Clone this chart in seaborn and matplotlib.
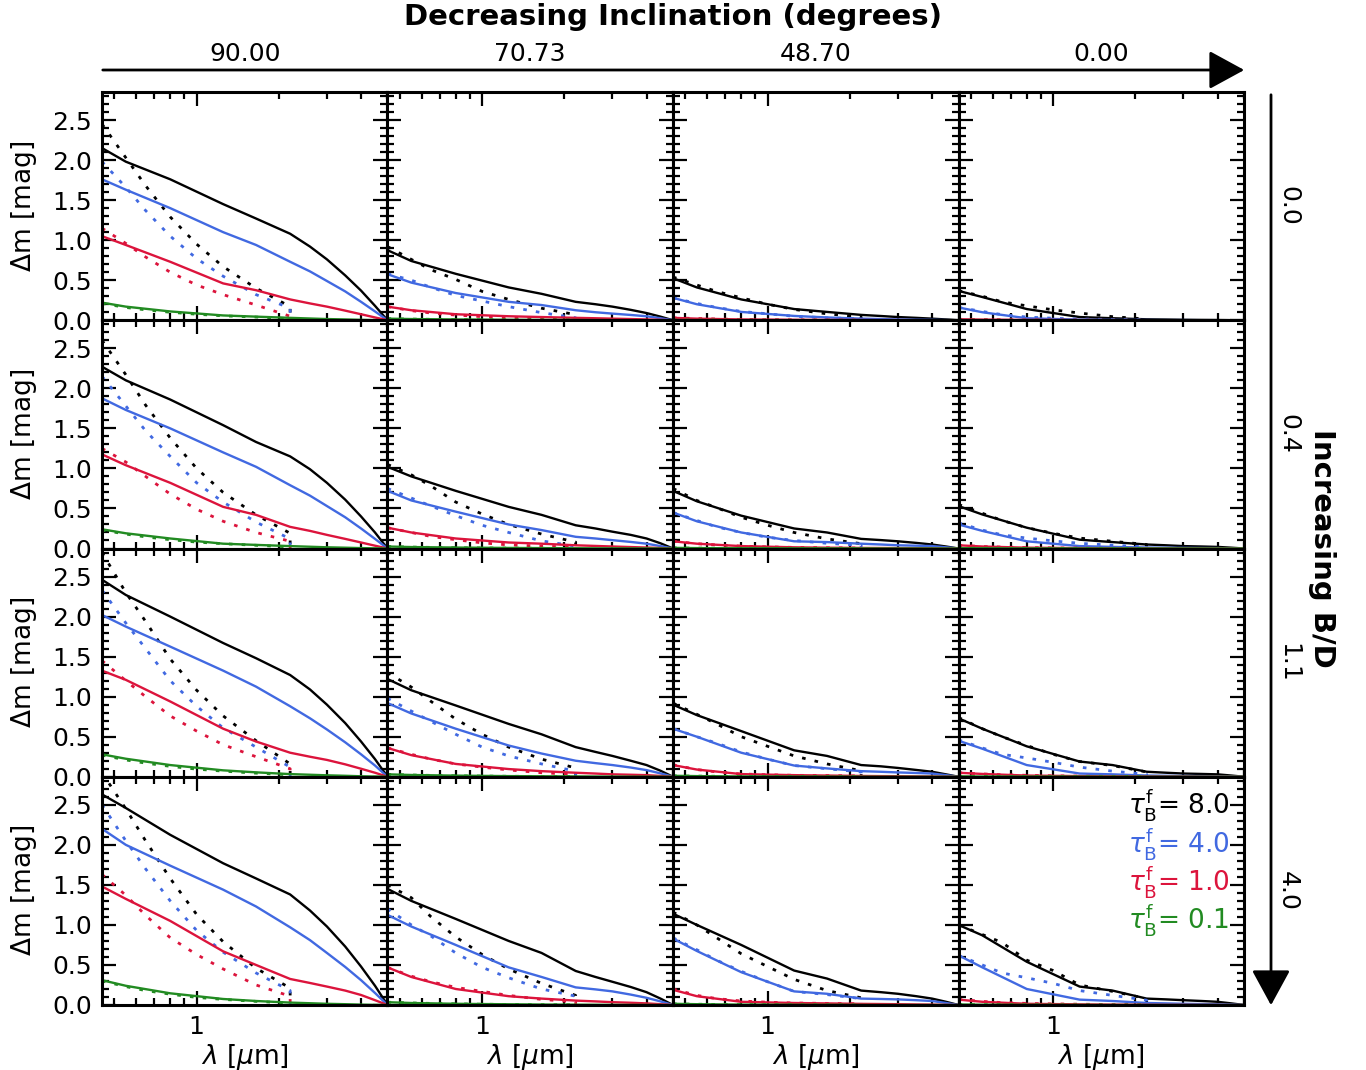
import matplotlib
matplotlib.use("Agg")
import matplotlib.pyplot as plt
import seaborn as sns
from matplotlib.patches import FancyArrowPatch
from matplotlib.ticker import (LogLocator, NullFormatter, MultipleLocator,
                               FormatStrFormatter, FuncFormatter)

# wavelength grids (micron)
wave_solid = [0.45, 0.55, 0.8, 1.25, 1.65, 2.2, 2.6, 3.0, 3.5, 4.0, 4.5, 5.0]
wave_dotted = [0.45, 0.55, 0.65, 0.8, 1.0, 1.25, 1.65, 2.2, 2.2]

inclinations = ["90.00", "70.73", "48.70", "0.00"]
bd_ratios = ["0.0", "0.4", "1.1", "4.0"]
tau_labels = ["8.0", "4.0", "1.0", "0.1"]
colors = ["black", "#4169E1", "#DC143C", "#228B22"]

# each panel: [tau=8, tau=4, tau=1, tau=0.1]
# --- row 0 (B/D = 0.0)
solid_r0c0 = [[2.15, 1.98, 1.76, 1.45, 1.27, 1.08, 0.92, 0.76, 0.56, 0.37, 0.18, 0.0],
              [1.76, 1.63, 1.40, 1.10, 0.94, 0.73, 0.61, 0.49, 0.36, 0.23, 0.11, 0.0],
              [1.05, 0.94, 0.73, 0.46, 0.375, 0.26, 0.21, 0.17, 0.12, 0.075, 0.035, 0.0],
              [0.22, 0.17, 0.11, 0.06, 0.045, 0.03, 0.022, 0.015, 0.01, 0.005, 0.002, 0.0]]
dotted_r0c0 = [[2.45, 2.03, 1.68, 1.29, 0.95, 0.67, 0.40, 0.17, 0.0],
               [1.98, 1.66, 1.37, 1.05, 0.77, 0.55, 0.32, 0.15, 0.0],
               [1.15, 0.96, 0.79, 0.60, 0.44, 0.32, 0.19, 0.05, 0.0],
               [0.21, 0.16, 0.13, 0.10, 0.075, 0.055, 0.04, 0.02, 0.0]]
solid_r0c1 = [[0.875, 0.74, 0.58, 0.41, 0.33, 0.23, 0.20, 0.17, 0.13, 0.09, 0.045, 0.0],
              [0.575, 0.47, 0.34, 0.23, 0.19, 0.125, 0.10, 0.083, 0.066, 0.05, 0.025, 0.0],
              [0.17, 0.125, 0.075, 0.05, 0.04, 0.03, 0.025, 0.02, 0.015, 0.01, 0.005, 0.0],
              [0.02, 0.015, 0.01, 0.006, 0.004, 0.003, 0.002, 0.002, 0.001, 0.001, 0.0, 0.0]]
dotted_r0c1 = [[0.92, 0.76, 0.63, 0.51, 0.36, 0.26, 0.15, 0.07, 0.0],
               [0.58, 0.50, 0.41, 0.31, 0.24, 0.17, 0.095, 0.03, 0.0],
               [0.17, 0.12, 0.09, 0.065, 0.045, 0.03, 0.02, 0.01, 0.0],
               [0.02, 0.015, 0.012, 0.009, 0.006, 0.004, 0.003, 0.002, 0.0]]
solid_r0c2 = [[0.525, 0.41, 0.26, 0.14, 0.104, 0.067, 0.053, 0.04, 0.03, 0.02, 0.01, 0.0],
              [0.28, 0.20, 0.104, 0.054, 0.035, 0.02, 0.015, 0.01, 0.007, 0.005, 0.002, 0.0],
              [0.03, 0.02, 0.01, 0.006, 0.004, 0.003, 0.002, 0.002, 0.001, 0.001, 0.0, 0.0],
              [0.003, 0.002, 0.001, 0.001, 0.0, 0.0, 0.0, 0.0, 0.0, 0.0, 0.0, 0.0]]
dotted_r0c2 = [[0.54, 0.44, 0.36, 0.28, 0.20, 0.135, 0.08, 0.04, 0.0],
               [0.28, 0.21, 0.16, 0.11, 0.08, 0.05, 0.03, 0.02, 0.0],
               [0.03, 0.022, 0.016, 0.01, 0.007, 0.005, 0.003, 0.002, 0.0],
               [0.003, 0.002, 0.002, 0.001, 0.001, 0.0, 0.0, 0.0, 0.0]]
solid_r0c3 = [[0.367, 0.29, 0.14, 0.04, 0.025, 0.012, 0.009, 0.006, 0.004, 0.003, 0.001, 0.0],
              [0.16, 0.10, 0.025, 0.008, 0.005, 0.003, 0.002, 0.002, 0.001, 0.001, 0.0, 0.0],
              [0.012, 0.008, 0.004, 0.002, 0.001, 0.001, 0.0, 0.0, 0.0, 0.0, 0.0, 0.0],
              [0.001, 0.001, 0.0, 0.0, 0.0, 0.0, 0.0, 0.0, 0.0, 0.0, 0.0, 0.0]]
dotted_r0c3 = [[0.37, 0.30, 0.23, 0.18, 0.13, 0.09, 0.045, 0.015, 0.0],
               [0.16, 0.11, 0.07, 0.04, 0.025, 0.015, 0.01, 0.005, 0.0],
               [0.012, 0.008, 0.006, 0.004, 0.003, 0.002, 0.001, 0.0, 0.0],
               [0.001, 0.001, 0.0, 0.0, 0.0, 0.0, 0.0, 0.0, 0.0]]

# --- row 1 (B/D = 0.4)
solid_r1c0 = [[2.27, 2.10, 1.86, 1.54, 1.33, 1.15, 0.99, 0.82, 0.61, 0.40, 0.20, 0.0],
              [1.875, 1.73, 1.50, 1.20, 1.02, 0.79, 0.66, 0.53, 0.39, 0.25, 0.12, 0.0],
              [1.175, 1.04, 0.82, 0.52, 0.42, 0.27, 0.22, 0.17, 0.12, 0.075, 0.035, 0.0],
              [0.24, 0.19, 0.125, 0.06, 0.045, 0.03, 0.022, 0.015, 0.01, 0.005, 0.002, 0.0]]
dotted_r1c0 = [[2.60, 2.17, 1.79, 1.38, 1.00, 0.70, 0.42, 0.19, 0.0],
               [2.15, 1.78, 1.47, 1.15, 0.82, 0.58, 0.33, 0.12, 0.0],
               [1.25, 1.08, 0.90, 0.68, 0.49, 0.34, 0.20, 0.09, 0.0],
               [0.23, 0.18, 0.145, 0.11, 0.08, 0.06, 0.04, 0.02, 0.0]]
solid_r1c1 = [[1.02, 0.90, 0.72, 0.52, 0.42, 0.29, 0.25, 0.21, 0.17, 0.125, 0.065, 0.0],
              [0.72, 0.60, 0.46, 0.30, 0.23, 0.146, 0.125, 0.104, 0.082, 0.06, 0.03, 0.0],
              [0.26, 0.20, 0.125, 0.075, 0.06, 0.04, 0.032, 0.025, 0.018, 0.012, 0.006, 0.0],
              [0.025, 0.018, 0.012, 0.007, 0.005, 0.003, 0.002, 0.002, 0.001, 0.001, 0.0, 0.0]]
dotted_r1c1 = [[1.05, 0.92, 0.78, 0.58, 0.43, 0.30, 0.18, 0.08, 0.0],
               [0.75, 0.63, 0.53, 0.41, 0.29, 0.20, 0.095, 0.03, 0.0],
               [0.26, 0.20, 0.15, 0.11, 0.07, 0.045, 0.03, 0.015, 0.0],
               [0.025, 0.018, 0.014, 0.01, 0.007, 0.005, 0.003, 0.002, 0.0]]
solid_r1c2 = [[0.72, 0.59, 0.41, 0.25, 0.20, 0.12, 0.105, 0.09, 0.07, 0.05, 0.025, 0.0],
              [0.45, 0.34, 0.20, 0.09, 0.08, 0.06, 0.05, 0.04, 0.035, 0.03, 0.015, 0.0],
              [0.09, 0.06, 0.03, 0.015, 0.01, 0.007, 0.006, 0.005, 0.004, 0.003, 0.001, 0.0],
              [0.008, 0.005, 0.003, 0.002, 0.001, 0.001, 0.0, 0.0, 0.0, 0.0, 0.0, 0.0]]
dotted_r1c2 = [[0.75, 0.60, 0.51, 0.39, 0.29, 0.20, 0.12, 0.06, 0.0],
               [0.45, 0.35, 0.27, 0.20, 0.14, 0.10, 0.065, 0.04, 0.0],
               [0.09, 0.06, 0.045, 0.03, 0.02, 0.014, 0.01, 0.006, 0.0],
               [0.008, 0.005, 0.004, 0.003, 0.002, 0.001, 0.0, 0.0, 0.0]]
solid_r1c3 = [[0.53, 0.425, 0.26, 0.11, 0.08, 0.05, 0.04, 0.03, 0.025, 0.02, 0.01, 0.0],
              [0.30, 0.22, 0.09, 0.03, 0.02, 0.012, 0.01, 0.008, 0.006, 0.005, 0.002, 0.0],
              [0.04, 0.025, 0.01, 0.005, 0.003, 0.002, 0.001, 0.001, 0.001, 0.001, 0.0, 0.0],
              [0.004, 0.003, 0.001, 0.0, 0.0, 0.0, 0.0, 0.0, 0.0, 0.0, 0.0, 0.0]]
dotted_r1c3 = [[0.55, 0.44, 0.35, 0.26, 0.19, 0.13, 0.09, 0.05, 0.0],
               [0.32, 0.23, 0.17, 0.13, 0.095, 0.065, 0.04, 0.02, 0.0],
               [0.04, 0.025, 0.018, 0.012, 0.008, 0.005, 0.003, 0.002, 0.0],
               [0.004, 0.003, 0.002, 0.001, 0.0, 0.0, 0.0, 0.0, 0.0]]

# --- row 2 (B/D = 1.1)
solid_r2c0 = [[2.46, 2.27, 2.00, 1.67, 1.48, 1.27, 1.09, 0.90, 0.67, 0.44, 0.22, 0.0],
              [2.02, 1.875, 1.625, 1.325, 1.125, 0.88, 0.73, 0.59, 0.43, 0.28, 0.14, 0.0],
              [1.325, 1.21, 0.94, 0.60, 0.44, 0.30, 0.25, 0.21, 0.155, 0.10, 0.05, 0.0],
              [0.28, 0.225, 0.146, 0.08, 0.055, 0.033, 0.025, 0.018, 0.012, 0.006, 0.003, 0.0]]
dotted_r2c0 = [[2.80, 2.30, 1.94, 1.47, 1.08, 0.76, 0.45, 0.16, 0.0],
               [2.33, 1.92, 1.60, 1.20, 0.88, 0.61, 0.37, 0.12, 0.0],
               [1.45, 1.20, 1.00, 0.76, 0.57, 0.40, 0.25, 0.10, 0.0],
               [0.27, 0.21, 0.17, 0.13, 0.095, 0.07, 0.045, 0.025, 0.0]]
solid_r2c1 = [[1.22, 1.08, 0.89, 0.66, 0.53, 0.37, 0.31, 0.26, 0.20, 0.146, 0.075, 0.0],
              [0.92, 0.79, 0.60, 0.39, 0.29, 0.20, 0.17, 0.146, 0.115, 0.083, 0.042, 0.0],
              [0.36, 0.27, 0.16, 0.096, 0.07, 0.05, 0.04, 0.03, 0.025, 0.02, 0.01, 0.0],
              [0.03, 0.022, 0.014, 0.008, 0.006, 0.004, 0.003, 0.002, 0.001, 0.001, 0.0, 0.0]]
dotted_r2c1 = [[1.30, 1.12, 0.94, 0.72, 0.53, 0.37, 0.22, 0.11, 0.0],
               [0.98, 0.82, 0.69, 0.53, 0.37, 0.26, 0.16, 0.07, 0.0],
               [0.36, 0.28, 0.22, 0.16, 0.12, 0.085, 0.05, 0.03, 0.0],
               [0.03, 0.022, 0.017, 0.012, 0.009, 0.006, 0.004, 0.002, 0.0]]
solid_r2c2 = [[0.90, 0.77, 0.57, 0.33, 0.26, 0.146, 0.13, 0.11, 0.085, 0.0625, 0.03, 0.0],
              [0.60, 0.50, 0.30, 0.14, 0.104, 0.07, 0.062, 0.054, 0.047, 0.04, 0.02, 0.0],
              [0.146, 0.09, 0.033, 0.02, 0.015, 0.01, 0.008, 0.007, 0.005, 0.004, 0.002, 0.0],
              [0.012, 0.008, 0.004, 0.002, 0.001, 0.001, 0.0, 0.0, 0.0, 0.0, 0.0, 0.0]]
dotted_r2c2 = [[0.92, 0.78, 0.66, 0.50, 0.38, 0.26, 0.16, 0.075, 0.0],
               [0.60, 0.50, 0.42, 0.31, 0.22, 0.14, 0.10, 0.06, 0.0],
               [0.15, 0.09, 0.06, 0.035, 0.025, 0.018, 0.015, 0.01, 0.0],
               [0.012, 0.008, 0.006, 0.004, 0.002, 0.001, 0.001, 0.0, 0.0]]
solid_r2c3 = [[0.73, 0.60, 0.38, 0.19, 0.146, 0.0625, 0.05, 0.04, 0.035, 0.03, 0.015, 0.0],
              [0.45, 0.35, 0.146, 0.04, 0.03, 0.015, 0.012, 0.01, 0.008, 0.006, 0.003, 0.0],
              [0.05, 0.035, 0.015, 0.008, 0.005, 0.003, 0.002, 0.002, 0.001, 0.001, 0.0, 0.0],
              [0.005, 0.003, 0.002, 0.001, 0.0, 0.0, 0.0, 0.0, 0.0, 0.0, 0.0, 0.0]]
dotted_r2c3 = [[0.74, 0.60, 0.50, 0.39, 0.28, 0.19, 0.14, 0.06, 0.0],
               [0.46, 0.36, 0.28, 0.235, 0.18, 0.12, 0.07, 0.03, 0.0],
               [0.05, 0.035, 0.025, 0.018, 0.012, 0.008, 0.005, 0.003, 0.0],
               [0.005, 0.003, 0.002, 0.002, 0.001, 0.0, 0.0, 0.0, 0.0]]

# --- row 3 (B/D = 4.0)
solid_r3c0 = [[2.63, 2.46, 2.125, 1.77, 1.58, 1.38, 1.18, 0.98, 0.73, 0.48, 0.24, 0.0],
              [2.20, 2.00, 1.74, 1.44, 1.23, 0.97, 0.81, 0.65, 0.475, 0.31, 0.15, 0.0],
              [1.48, 1.325, 1.05, 0.67, 0.50, 0.325, 0.275, 0.23, 0.18, 0.125, 0.06, 0.0],
              [0.31, 0.24, 0.146, 0.075, 0.05, 0.03, 0.022, 0.015, 0.01, 0.005, 0.002, 0.0]]
dotted_r3c0 = [[2.90, 2.45, 2.05, 1.58, 1.13, 0.79, 0.46, 0.21, 0.0],
               [2.50, 2.05, 1.70, 1.30, 0.93, 0.66, 0.40, 0.18, 0.0],
               [1.63, 1.37, 1.12, 0.84, 0.63, 0.45, 0.25, 0.11, 0.0],
               [0.30, 0.23, 0.18, 0.135, 0.095, 0.07, 0.045, 0.025, 0.0]]
solid_r3c1 = [[1.45, 1.30, 1.075, 0.80, 0.65, 0.425, 0.35, 0.29, 0.225, 0.16, 0.08, 0.0],
              [1.125, 0.98, 0.75, 0.47, 0.35, 0.22, 0.195, 0.17, 0.13, 0.09, 0.045, 0.0],
              [0.47, 0.35, 0.20, 0.11, 0.08, 0.055, 0.045, 0.035, 0.028, 0.02, 0.01, 0.0],
              [0.035, 0.025, 0.015, 0.009, 0.006, 0.004, 0.003, 0.002, 0.001, 0.001, 0.0, 0.0]]
dotted_r3c1 = [[1.50, 1.34, 1.10, 0.85, 0.63, 0.45, 0.27, 0.12, 0.0],
               [1.20, 1.00, 0.86, 0.65, 0.47, 0.34, 0.20, 0.11, 0.0],
               [0.47, 0.36, 0.29, 0.22, 0.17, 0.12, 0.07, 0.04, 0.0],
               [0.035, 0.026, 0.02, 0.015, 0.01, 0.007, 0.004, 0.002, 0.0]]
solid_r3c2 = [[1.14, 1.00, 0.75, 0.43, 0.33, 0.18, 0.16, 0.14, 0.11, 0.08, 0.04, 0.0],
              [0.83, 0.675, 0.41, 0.17, 0.14, 0.08, 0.075, 0.07, 0.06, 0.05, 0.025, 0.0],
              [0.19, 0.11, 0.04, 0.025, 0.02, 0.014, 0.012, 0.01, 0.007, 0.005, 0.002, 0.0],
              [0.015, 0.01, 0.005, 0.003, 0.002, 0.001, 0.0, 0.0, 0.0, 0.0, 0.0, 0.0]]
dotted_r3c2 = [[1.16, 1.00, 0.84, 0.64, 0.48, 0.32, 0.18, 0.09, 0.0],
               [0.84, 0.69, 0.56, 0.42, 0.29, 0.17, 0.13, 0.08, 0.0],
               [0.20, 0.12, 0.08, 0.05, 0.035, 0.025, 0.02, 0.015, 0.0],
               [0.015, 0.01, 0.007, 0.005, 0.003, 0.002, 0.001, 0.0, 0.0]]
solid_r3c3 = [[1.00, 0.87, 0.54, 0.23, 0.18, 0.08, 0.07, 0.06, 0.05, 0.04, 0.02, 0.0],
              [0.62, 0.47, 0.20, 0.067, 0.05, 0.025, 0.02, 0.015, 0.012, 0.01, 0.005, 0.0],
              [0.067, 0.04, 0.015, 0.008, 0.005, 0.003, 0.002, 0.002, 0.001, 0.001, 0.0, 0.0],
              [0.006, 0.004, 0.002, 0.001, 0.0, 0.0, 0.0, 0.0, 0.0, 0.0, 0.0, 0.0]]
dotted_r3c3 = [[1.00, 0.88, 0.78, 0.56, 0.43, 0.25, 0.17, 0.08, 0.0],
               [0.62, 0.50, 0.40, 0.34, 0.27, 0.18, 0.12, 0.06, 0.0],
               [0.07, 0.045, 0.03, 0.02, 0.014, 0.01, 0.006, 0.004, 0.0],
               [0.006, 0.004, 0.003, 0.002, 0.001, 0.0, 0.0, 0.0, 0.0]]

solid = [[solid_r0c0, solid_r0c1, solid_r0c2, solid_r0c3],
         [solid_r1c0, solid_r1c1, solid_r1c2, solid_r1c3],
         [solid_r2c0, solid_r2c1, solid_r2c2, solid_r2c3],
         [solid_r3c0, solid_r3c1, solid_r3c2, solid_r3c3]]
dotted = [[dotted_r0c0, dotted_r0c1, dotted_r0c2, dotted_r0c3],
          [dotted_r1c0, dotted_r1c1, dotted_r1c2, dotted_r1c3],
          [dotted_r2c0, dotted_r2c1, dotted_r2c2, dotted_r2c3],
          [dotted_r3c0, dotted_r3c1, dotted_r3c2, dotted_r3c3]]

sns.set_style("ticks")
plt.rcParams["font.family"] = ["DejaVu Sans"]
plt.rcParams["mathtext.fontset"] = "dejavusans"
for key in ["text.color", "axes.labelcolor", "xtick.color", "ytick.color",
            "axes.edgecolor"]:
    plt.rcParams[key] = "black"

W, H = 1366, 1070
fig, axes = plt.subplots(4, 4, figsize=(W / 100, H / 100), dpi=100)
fig.subplots_adjust(left=102 / W, right=1244 / W, bottom=1 - 1005 / H,
                    top=1 - 92 / H, wspace=0, hspace=0)

for r in range(4):
    for c in range(4):
        ax = axes[r, c]
        ax.set_xscale("log")
        for k in range(4):
            sns.lineplot(x=wave_solid, y=solid[r][c][k], ax=ax, color=colors[k],
                         lw=1.7, estimator=None, sort=False)
            sns.lineplot(x=wave_dotted, y=dotted[r][c][k], ax=ax, color=colors[k],
                         lw=2.0, linestyle=(0, (1.3, 3.3)), estimator=None, sort=False)
        ax.set_xlim(0.45, 5.0)
        ax.set_ylim(0, 2.85)

        ax.yaxis.set_major_locator(MultipleLocator(0.5))
        ax.yaxis.set_minor_locator(MultipleLocator(0.1))
        ax.yaxis.set_major_formatter(FormatStrFormatter("%.1f"))
        ax.xaxis.set_major_locator(LogLocator(base=10))
        ax.xaxis.set_minor_locator(LogLocator(base=10, subs=range(2, 10)))
        ax.xaxis.set_major_formatter(FuncFormatter(lambda v, p: "%g" % v))
        ax.xaxis.set_minor_formatter(NullFormatter())

        ax.tick_params(which="both", direction="in", top=True, right=True,
                       width=1.6, labelsize=18, pad=7, color="black",
                       labelcolor="black")
        ax.tick_params(which="major", length=10)
        ax.tick_params(which="minor", length=5)
        for sp in ax.spines.values():
            sp.set_linewidth(2.2)
            sp.set_color("black")

        ax.set_xlabel("")
        ax.set_ylabel("")
        if c == 0:
            ax.set_ylabel(r"$\Delta$m [mag]", fontsize=19, labelpad=10)
        else:
            ax.tick_params(labelleft=False)
        if r == 3:
            ax.set_xlabel(r"$\lambda$ [$\mu$m]", fontsize=19, labelpad=2)
        else:
            ax.tick_params(labelbottom=False)

# legend text in the last panel
for k in range(4):
    axes[3, 3].text(0.95, 0.875 - 0.168 * k,
                    r"$\tau^{\mathrm{f}}_{\mathrm{B}}$= " + tau_labels[k],
                    transform=axes[3, 3].transAxes, ha="right", va="center",
                    fontsize=19, color=colors[k])

# top arrow and inclination labels
fig.add_artist(FancyArrowPatch((100 / W, 1 - 70 / H), (1247 / W, 1 - 70 / H),
                               transform=fig.transFigure, color="black", lw=2,
                               arrowstyle="-|>,head_length=1.1,head_width=0.6",
                               mutation_scale=20))
for c in range(4):
    pos = axes[0, c].get_position()
    fig.text((pos.x0 + pos.x1) / 2, 1 - 54 / H, inclinations[c],
             ha="center", va="center", fontsize=18)
fig.text(0.5 * (102 + 1244) / W, 1 - 17 / H, "Decreasing Inclination (degrees)",
         ha="center", va="center", fontsize=21, fontweight="bold")

# right arrow and B/D labels
fig.add_artist(FancyArrowPatch((1271 / W, 1 - 92 / H), (1271 / W, 1 - 1008 / H),
                               transform=fig.transFigure, color="black", lw=2,
                               arrowstyle="-|>,head_length=1.1,head_width=0.6",
                               mutation_scale=20))
for r in range(4):
    pos = axes[r, 3].get_position()
    fig.text(1288 / W, (pos.y0 + pos.y1) / 2, bd_ratios[r], rotation=-90,
             ha="center", va="center", fontsize=18)
fig.text(1322 / W, 1 - 548 / H, "Increasing B/D", rotation=-90,
         ha="center", va="center", fontsize=21, fontweight="bold")

fig.savefig("out.png", dpi=100)
